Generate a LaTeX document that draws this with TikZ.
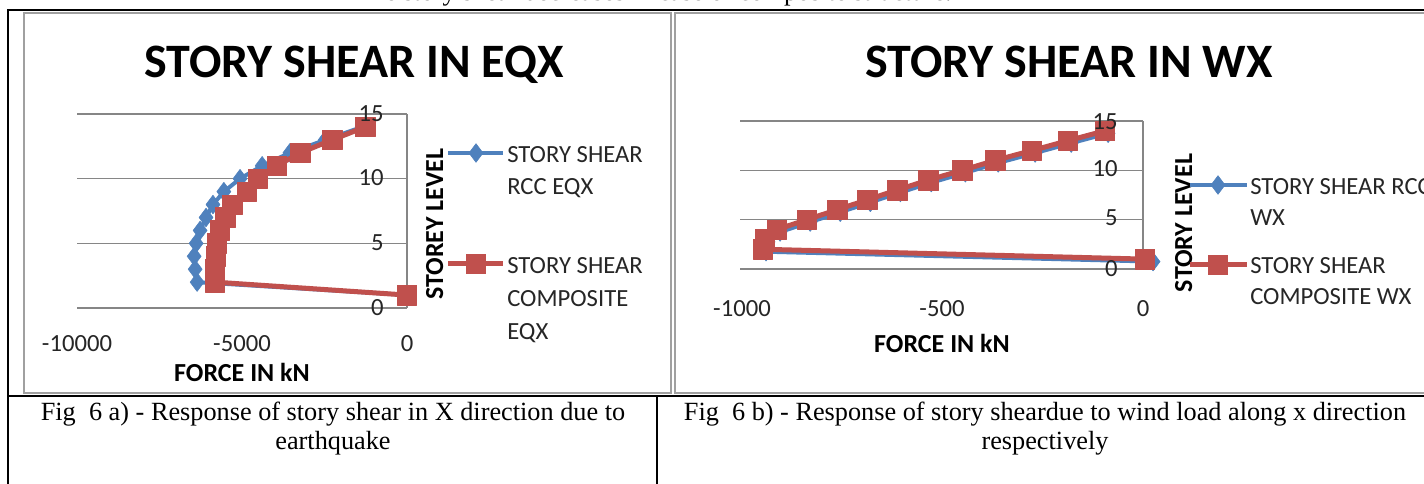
\documentclass[tikz,border=0pt]{standalone}
\usepackage{fontspec}
\setmainfont{Liberation Serif}
\newfontfamily\chartfont{Carlito}
\usetikzlibrary{plotmarks}
\definecolor{serblue}{RGB}{79,129,189}
\definecolor{serred}{RGB}{192,80,77}
\definecolor{gridgray}{RGB}{134,134,134}
\definecolor{framegray}{RGB}{160,160,160}
\tikzset{
  tick/.style={font=\chartfont\fontsize{18.5}{22}\selectfont, text=black!85, inner sep=0pt},
  axtitle/.style={font=\chartfont\bfseries\fontsize{19.5}{23}\selectfont, inner sep=0pt, anchor=base},
  legtxt/.style={font=\chartfont\fontsize{18.5}{22}\selectfont, text=black!85, inner sep=0pt, anchor=base west},
  ctitle/.style={font=\chartfont\bfseries\fontsize{36}{40}\selectfont, inner sep=0pt, anchor=base},
  captxt/.style={font=\fontsize{19.7}{24}\selectfont, inner sep=0pt, anchor=base},
  gridln/.style={draw=gridgray, line width=1.1pt},
  tableline/.style={draw=black, line width=1.6pt},
  chartframe/.style={draw=framegray, line width=1.4pt},
  blueser/.style={draw=serblue, line width=3pt, line join=round,
    mark=diamond*, mark size=7pt, mark options={fill=serblue, draw=serblue, line width=0.4pt}},
  redser/.style={draw=serred, line width=3.75pt, line join=round,
    mark=square*, mark size=7.3pt, mark options={fill=serred, draw=serred, line width=0.4pt}},
}
\begin{document}
\begin{tikzpicture}[x=0.75pt, y=-0.75pt]
\clip (0,0) rectangle (1424,484);
\fill[white] (0,0) rectangle (1424,484);

% sentence of the text above, mostly cut by the page edge
\node[captxt, anchor=base east] (above) at (952,1) {The story shear decreases in case of composite structure.};

% table rules
\draw[tableline] (8,484) -- (8,10) -- (1424,10);
\draw[tableline] (8,396) -- (1424,396);
\draw[tableline] (657,396) -- (657,484);

% chart frames
\draw[chartframe] (24,13) rectangle (671,393);
\draw[chartframe] (675,13) rectangle (1440,393);

% ---------------- chart (a): earthquake ----------------
\node[ctitle] (titleA) at (354,78) {STORY SHEAR IN EQX};
% data units: 1 kN along x, 1 storey along y (origin at the axis corner)
\begin{scope}[shift={(407,308)}, x=0.02475pt, y=9.6975pt]
  \foreach \v in {0,5,10,15} \draw[gridln] (-10000,\v) -- (0,\v);
  \draw[gridln] (0,0) -- (0,15);
  \draw[blueser] plot coordinates {(0,1) (-6360,2) (-6420,3) (-6450,4) (-6390,5)
    (-6270,6) (-6090,7) (-5880,8) (-5550,9) (-5060,10) (-4390,11) (-3550,12) (-2480,13) (-1360,14)};
  \draw[redser] plot coordinates {(0,1) (-5820,2) (-5820,3) (-5790,4) (-5760,5)
    (-5670,6) (-5510,7) (-5300,8) (-4850,9) (-4520,10) (-3940,11) (-3240,12) (-2270,13) (-1270,14)};
\end{scope}
\node[tick, anchor=base] (ax1) at (77,352) {-10000};
\node[tick, anchor=base] (ax2) at (242,352) {-5000};
\node[tick, anchor=base] (ax3) at (407,352) {0};
\node[tick, anchor=base east] (ay1) at (384,122) {15};
\node[tick, anchor=base east] (ay2) at (384,186) {10};
\node[tick, anchor=base east] (ay3) at (384,251) {5};
\node[tick, anchor=base east] (ay4) at (384,316) {0};
\node[axtitle] (xtA) at (242,382) {FORCE IN kN};
\node[axtitle, rotate=90] (ytA) at (443,224) {STOREY LEVEL};
% legend (a)
\coordinate (lbA1) at (448,153); \coordinate (lbA2) at (503,153);
\coordinate (lrA1) at (448,264); \coordinate (lrA2) at (503,264);
\draw[blueser] (lbA1) -- (lbA2);
\path[blueser] plot coordinates {(476,153)};
\draw[redser] (lrA1) -- (lrA2);
\path[redser] plot coordinates {(476,264)};
\node[legtxt] (lgA1) at (507,163) {STORY SHEAR};
\node[legtxt] (lgA2) at (507,195) {RCC EQX};
\node[legtxt] (lgA3) at (507,274) {STORY SHEAR};
\node[legtxt] (lgA4) at (507,307) {COMPOSITE};
\node[legtxt] (lgA5) at (507,340) {EQX};

% ---------------- chart (b): wind ----------------
\node[ctitle] (titleB) at (1069,78) {STORY SHEAR IN WX};
\begin{scope}[shift={(1143,269)}, x=0.30075pt, y=7.4025pt]
  \foreach \v in {0,5,10,15} \draw[gridln] (-1005,\v) -- (0,\v);
  \draw[gridln] (0,0) -- (0,15);
  \draw[blueser] plot coordinates {(25,0.75) (-940,1.75) (-935,2.75) (-905,3.75) (-830,4.75)
    (-755,5.75) (-680,6.75) (-605,7.75) (-528,8.75) (-443,9.75) (-361,10.75) (-269,11.75) (-179,12.75) (-87,13.75)};
  \draw[redser] plot coordinates {(5,1) (-948,2) (-943,3) (-913,4) (-838,5)
    (-763,6) (-688,7) (-613,8) (-536,9) (-451,10) (-369,11) (-277,12) (-187,13) (-95,14)};
\end{scope}
\node[tick, anchor=base] (bx1) at (742,317) {-1000};
\node[tick, anchor=base] (bx2) at (942,317) {-500};
\node[tick, anchor=base] (bx3) at (1143,317) {0};
\node[tick, anchor=base east] (by1) at (1118,130) {15};
\node[tick, anchor=base east] (by2) at (1118,177) {10};
\node[tick, anchor=base east] (by3) at (1118,226) {5};
\node[tick, anchor=base east] (by4) at (1118,277) {0};
\node[axtitle] (xtB) at (942,353) {FORCE IN kN};
\node[axtitle, rotate=90] (ytB) at (1192,223) {STORY LEVEL};
% legend (b)
\coordinate (lbB1) at (1190,185); \coordinate (lbB2) at (1247,185);
\coordinate (lrB1) at (1190,265); \coordinate (lrB2) at (1247,265);
\draw[blueser] (lbB1) -- (lbB2);
\path[blueser] plot coordinates {(1218,185)};
\draw[redser] (lrB1) -- (lrB2);
\path[redser] plot coordinates {(1218,265)};
\node[legtxt] (lgB1) at (1250,195) {STORY SHEAR RCC};
\node[legtxt] (lgB2) at (1250,226) {WX};
\node[legtxt] (lgB3) at (1250,274) {STORY SHEAR};
\node[legtxt] (lgB4) at (1250,305) {COMPOSITE WX};

% ---------------- captions ----------------
\node[captxt] (capA1) at (333,421) {Fig~~6 a) - Response of story shear in X direction due to};
\node[captxt] (capA2) at (333,450) {earthquake};
\node[captxt] (capB1) at (1045,421) {Fig~~6 b) - Response of story sheardue to wind load along x direction};
\node[captxt] (capB2) at (1045,450) {respectively};
\end{tikzpicture}
\end{document}
